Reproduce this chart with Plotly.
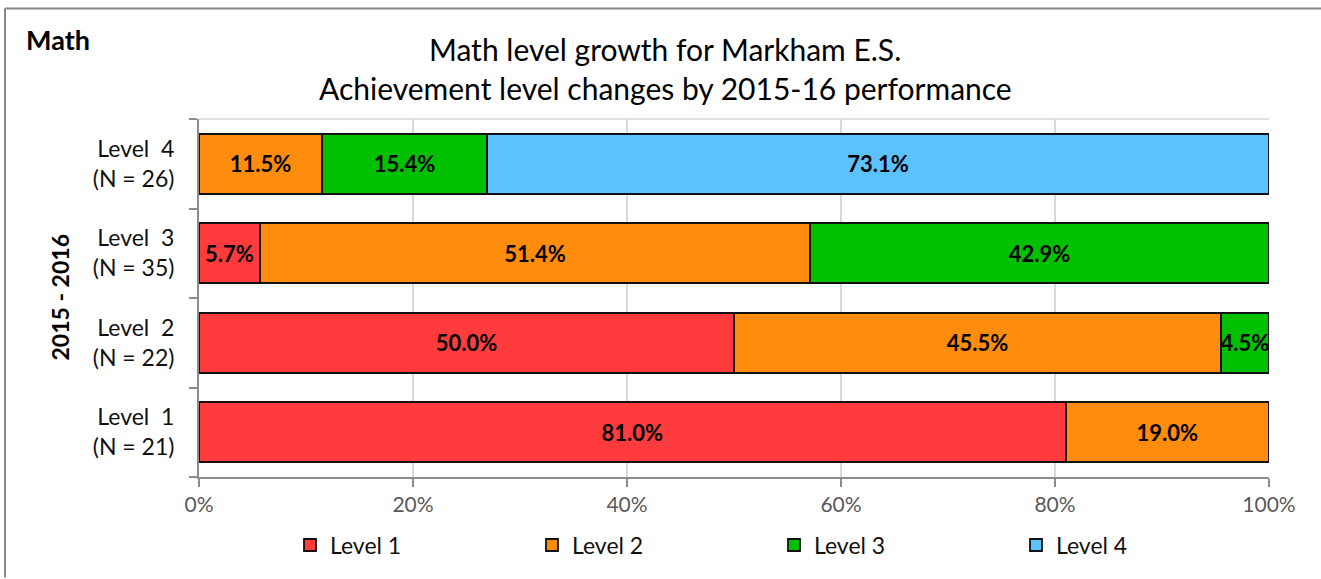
import plotly.graph_objects as go

categories = ["Level  1<br>(N = 21)", "Level  2<br>(N = 22)", "Level  3<br>(N = 35)", "Level  4<br>(N = 26)"]
series_names = ["Level 1", "Level 2", "Level 3", "Level 4"]
level1 = [81.0, 50.0, 5.7, None]
level2 = [19.0, 45.5, 51.4, 11.5]
level3 = [None, 4.5, 42.9, 15.4]
level4 = [None, None, None, 73.1]
series_values = [level1, level2, level3, level4]
colors = ["#FF3B3D", "#FF8C0D", "#00C000", "#5BC2FF"]
x_ticks = [0, 20, 40, 60, 80, 100]

W, H = 1321, 579
L, R, T, B = 199, 52, 119, 97
FONT = "Lato"

fig = go.Figure()
for name, vals, col in zip(series_names, series_values, colors):
    fig.add_trace(go.Bar(
        y=categories, x=vals, name=name, orientation="h",
        marker=dict(color=col, line=dict(color="#111111", width=1.8)),
        text=[None if v is None else f"<b>{v:.1f}%</b>" for v in vals],
        textposition="inside", insidetextanchor="middle", textangle=0,
        constraintext="none",
        textfont=dict(family=FONT, size=22, color="black"),
        cliponaxis=False,
    ))

pw = W - L - R
ph = H - T - B
def px(xp):
    return (xp - L) / pw
def py(yp):
    return (H - B - yp) / ph

fig.update_layout(
    width=W, height=H,
    margin=dict(l=L, r=R, t=T, b=B),
    barmode="stack", bargap=0.33,
    plot_bgcolor="white", paper_bgcolor="white",
    font=dict(family=FONT, size=22, color="#222222"),
    showlegend=True,
    legend=dict(orientation="h", x=px(290), xanchor="left", y=py(551), yanchor="middle",
                entrywidth=197, entrywidthmode="pixels",
                font=dict(family=FONT, size=23, color="#111111"),
                itemwidth=30, traceorder="normal", bgcolor="rgba(0,0,0,0)"),
    xaxis=dict(range=[0, 100], tickvals=x_ticks, ticktext=[f"{v}%" for v in x_ticks],
               showgrid=True, gridcolor="#D9D9D9", gridwidth=1.5,
               showline=True, linecolor="#8C8C8C", linewidth=2,
               ticks="outside", ticklen=8, tickcolor="#8C8C8C", tickwidth=2,
               tickfont=dict(family=FONT, size=21, color="#595959"),
               zeroline=False, fixedrange=True),
    yaxis=dict(categoryorder="array", categoryarray=categories,
               showline=True, linecolor="#8C8C8C", linewidth=2,
               ticks="outside", ticklen=8, tickcolor="#8C8C8C", tickwidth=2,
               tickson="boundaries", ticklabelstandoff=18,
               tickfont=dict(family=FONT, size=23, color="#111111"),
               fixedrange=True),
    shapes=[
        dict(type="line", xref="paper", yref="paper", x0=px(5), x1=px(5), y0=py(H + 5), y1=py(7),
             line=dict(color="#888888", width=2)),
        dict(type="line", xref="paper", yref="paper", x0=px(5), x1=px(W + 5), y0=py(7), y1=py(7),
             line=dict(color="#888888", width=2)),
        dict(type="line", xref="paper", yref="paper", x0=0, x1=1, y0=1, y1=1,
             line=dict(color="#D9D9D9", width=1.5)),
    ],
    annotations=[
        dict(text="<b>Math</b>", xref="paper", yref="paper", x=px(24), y=py(38),
             xanchor="left", yanchor="middle", showarrow=False,
             font=dict(family=FONT, size=27, color="black")),
        dict(text="Math level growth for Markham E.S.", xref="paper", yref="paper",
             x=px(665), y=py(48), xanchor="center", yanchor="middle", showarrow=False,
             font=dict(family=FONT, size=30, color="black")),
        dict(text="Achievement level changes by 2015-16 performance", xref="paper", yref="paper",
             x=px(665), y=py(88), xanchor="center", yanchor="middle", showarrow=False,
             font=dict(family=FONT, size=30, color="black")),
        dict(text="<b>2015 - 2016</b>", xref="paper", yref="paper", x=px(60), y=py(300),
             xanchor="center", yanchor="middle", textangle=-90, showarrow=False,
             font=dict(family=FONT, size=23, color="black")),
    ],
)

fig.write_html("out.html", config={"displayModeBar": False},
               post_script="document.body.style.margin='0';")
